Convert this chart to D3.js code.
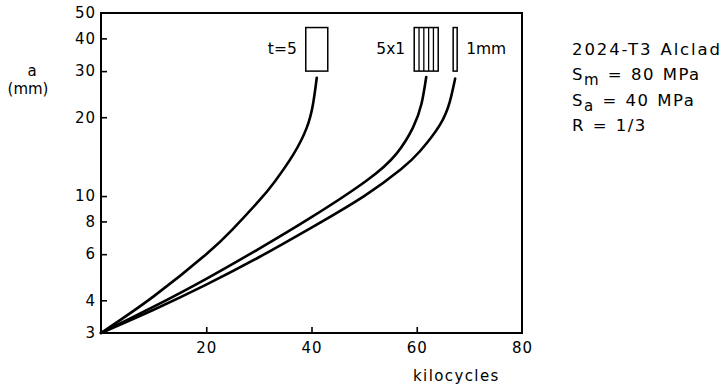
<!DOCTYPE html>
<html>
<head>
<meta charset="utf-8">
<script src="https://cdn.jsdelivr.net/npm/d3@7"></script>
<style>
  html, body { margin: 0; padding: 0; background: #fff; }
  svg text { font-family: "DejaVu Sans", "Liberation Sans", Arial, sans-serif; fill: #000; }
</style>
</head>
<body>
<svg id="chart" width="727" height="389"></svg>
<script>
// Crack growth curves, crack length a (mm) against kilocycles
const curveNames = ["t=5", "5x1", "1mm"];
const kc_t5   = [0, 10, 20, 25, 30, 33, 36.5, 39.1, 40.3, 41.0];
const a_t5    = [3, 4.14, 6.00, 7.46, 9.58, 11.35, 14.36, 18.25, 22.53, 28.3];
const kc_5x1  = [0, 10, 20, 30, 40, 50.5, 56.2, 59.3, 60.9, 61.8];
const a_5x1   = [3, 3.78, 4.83, 6.29, 8.31, 11.47, 14.56, 18.29, 22.5, 28.5];
const kc_1mm  = [0, 10, 20, 30, 40, 50, 57, 60.6, 64.4, 66.3, 67.3];
const a_1mm   = [3, 3.68, 4.59, 5.84, 7.58, 10.0, 12.66, 14.83, 18.7, 23.0, 28.1];
const strips  = [1, 5, 1];   // number of sheets in each specimen sketch

const xTicks = [20, 40, 60, 80];
const yTicks = [3, 4, 6, 8, 10, 20, 30, 40, 50];
const notes  = [["2024-T3 Alclad"], ["S", "m", " = 80 MPa"], ["S", "a", " = 40 MPa"], ["R = 1/3"]];

const svg = d3.select("#chart");
const plotLeft = 101, plotRight = 522, plotTop = 13, plotBottom = 333;

const x = d3.scaleLinear().domain([0, 80]).range([plotLeft, plotRight]);
const y = d3.scaleLog().domain([3, 50]).range([plotBottom, plotTop]);

// Axes: ticks point into the plot
const xAxis = d3.axisBottom(x).tickValues(xTicks).tickSize(-6).tickPadding(9).tickFormat(d3.format("d"));
const yAxis = d3.axisLeft(y).tickValues(yTicks).tickSize(-6).tickPadding(5).tickFormat(d3.format("d"));

const gx = svg.append("g").attr("transform", `translate(0,${plotBottom})`).call(xAxis);
const gy = svg.append("g").attr("transform", `translate(${plotLeft},0)`).call(yAxis);
[gx, gy].forEach(g => {
  g.select(".domain").remove();
  g.selectAll(".tick line").attr("stroke", "#000").attr("stroke-width", 1.6);
  g.selectAll(".tick text").attr("font-size", 15).attr("letter-spacing", 1).attr("fill", "#000");
});
gx.selectAll(".tick").filter(d => d === 80).select("line").remove();
gy.selectAll(".tick").filter(d => d === 3 || d === 50).select("line").remove();

// Frame
svg.append("rect")
  .attr("x", plotLeft).attr("y", plotTop)
  .attr("width", plotRight - plotLeft).attr("height", plotBottom - plotTop)
  .attr("fill", "none").attr("stroke", "#000").attr("stroke-width", 2);

// Axis titles
svg.append("text").attr("x", 32).attr("y", 76).attr("text-anchor", "middle").attr("font-size", 15).text("a");
svg.append("text").attr("x", 28).attr("y", 94).attr("text-anchor", "middle").attr("font-size", 15).text("(mm)");
svg.append("text").attr("x", 413).attr("y", 381).attr("font-size", 15)
  .attr("letter-spacing", 1.4).text("kilocycles");

// Curves
const series = [
  { kc: kc_t5, a: a_t5 },
  { kc: kc_5x1, a: a_5x1 },
  { kc: kc_1mm, a: a_1mm }
];
const line = d3.line()
  .x(d => x(d[0])).y(d => y(d[1]))
  .curve(d3.curveNatural);

series.forEach(s => {
  svg.append("path")
    .datum(s.kc.map((k, i) => [k, s.a[i]]))
    .attr("d", line)
    .attr("fill", "none").attr("stroke", "#000").attr("stroke-width", 2.6)
    .attr("stroke-linecap", "round");
});

// Specimen sketches above the curve ends, each made of its sheets
const sketchWidth = [22, 24, 4];
series.forEach((s, i) => {
  const cx = x(s.kc[s.kc.length - 1]);
  const w = sketchWidth[i];
  const y0 = y(44), y1 = y(30);
  const g = svg.append("g");
  g.append("rect")
    .attr("x", cx - w / 2).attr("y", y0)
    .attr("width", w).attr("height", y1 - y0)
    .attr("fill", "none").attr("stroke", "#000").attr("stroke-width", 1.5);
  for (let k = 1; k < strips[i]; k++) {
    const lx = cx - w / 2 + (w * k) / strips[i];
    g.append("line").attr("x1", lx).attr("x2", lx).attr("y1", y0).attr("y2", y1)
      .attr("stroke", "#000").attr("stroke-width", 1.3);
  }
  const ym = (y0 + y1) / 2 + 5;
  if (i < 2) {
    g.append("text").attr("x", cx - w / 2 - 9).attr("y", ym)
      .attr("text-anchor", "end").attr("font-size", 15.5).text(curveNames[i]);
  } else {
    g.append("text").attr("x", cx + w / 2 + 9).attr("y", ym)
      .attr("text-anchor", "start").attr("font-size", 15.5).text(curveNames[i]);
  }
});

// Material and loading notes
notes.forEach((parts, i) => {
  const t = svg.append("text").attr("x", 572).attr("y", 55 + i * 25.3)
    .attr("font-size", 16.5).attr("letter-spacing", i === 0 ? 1.9 : 1.5).attr("word-spacing", 1);
  if (parts.length === 1) {
    t.text(parts[0]);
  } else {
    t.append("tspan").text(parts[0]);
    t.append("tspan").attr("dy", 5).attr("font-size", 15).text(parts[1]);
    t.append("tspan").attr("dy", -5).text(parts[2]);
  }
});
</script>
</body>
</html>
